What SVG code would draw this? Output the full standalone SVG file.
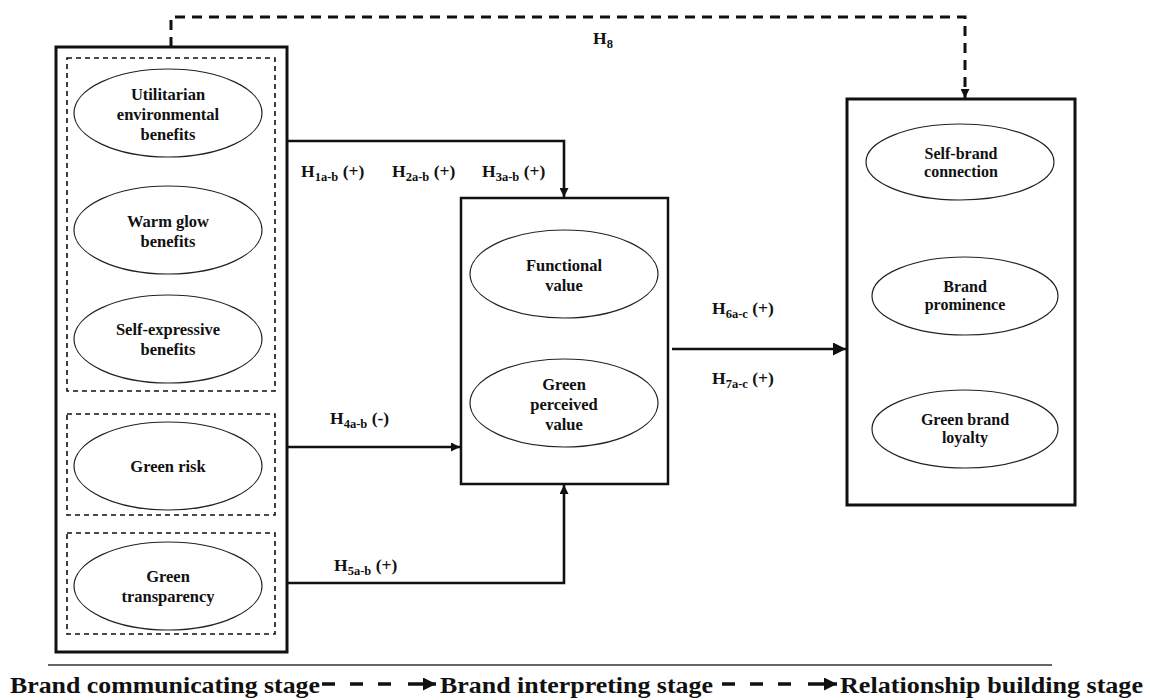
<svg xmlns="http://www.w3.org/2000/svg" width="1150" height="700" viewBox="0 0 1150 700">
  <style>
    text { font-family: "Liberation Serif", "Times New Roman", serif; font-weight: bold; fill: #111; }
    .lbl { font-size: 16.5px; text-anchor: middle; }
    .lbl-s { font-size: 16px; text-anchor: middle; }
    .hyp { font-size: 17.5px; }
    .sub { font-size: 12.5px; }
    .stage { font-size: 24px; }
    .box { fill: none; stroke: #111; stroke-width: 3; }
    .box-m { fill: none; stroke: #111; stroke-width: 2.5; }
    .group { fill: none; stroke: #111; stroke-width: 1.6; stroke-dasharray: 5 4; }
    .oval { fill: #fff; stroke: #222; stroke-width: 1.2; }
    .link { fill: none; stroke: #111; stroke-width: 2.6; }
    .link-d { fill: none; stroke: #111; stroke-width: 3; stroke-dasharray: 10 7; }
    .legend { fill: none; stroke: #111; stroke-width: 3.5; stroke-dasharray: 13 15; }
  </style>
  <defs>
    <marker id="arrow" viewBox="0 0 10 10" refX="10" refY="5" markerWidth="10" markerHeight="9" markerUnits="userSpaceOnUse" orient="auto">
      <path d="M0,0 L10,5 L0,10 Z" fill="#111"/>
    </marker>
    <marker id="arrow-lg" viewBox="0 0 10 10" refX="10" refY="5" markerWidth="14" markerHeight="13" markerUnits="userSpaceOnUse" orient="auto">
      <path d="M0,0 L10,5 L0,10 Z" fill="#111"/>
    </marker>
  </defs>

  <!-- Stage 1: brand communicating -->
  <g id="communicating">
    <rect class="box" x="56" y="47" width="231" height="605"/>
    <rect class="group" x="67" y="58" width="208" height="333"/>
    <rect class="group" x="67" y="414" width="208" height="101"/>
    <rect class="group" x="67" y="533" width="208" height="101"/>
  </g>
  <g id="utilitarian">
    <ellipse class="oval" cx="168" cy="113" rx="94" ry="44"/>
    <text class="lbl" x="168" y="100">Utilitarian</text>
    <text class="lbl" x="168" y="120">environmental</text>
    <text class="lbl" x="168" y="140">benefits</text>
  </g>
  <g id="warm-glow">
    <ellipse class="oval" cx="168" cy="230" rx="94" ry="44"/>
    <text class="lbl" x="168" y="227">Warm glow</text>
    <text class="lbl" x="168" y="247">benefits</text>
  </g>
  <g id="self-expressive">
    <ellipse class="oval" cx="168" cy="339" rx="94" ry="44"/>
    <text class="lbl" x="168" y="335">Self-expressive</text>
    <text class="lbl" x="168" y="355">benefits</text>
  </g>
  <g id="green-risk">
    <ellipse class="oval" cx="168" cy="466" rx="94" ry="44"/>
    <text class="lbl" x="168" y="472">Green risk</text>
  </g>
  <g id="green-transparency">
    <ellipse class="oval" cx="168" cy="586" rx="94" ry="44"/>
    <text class="lbl" x="168" y="582">Green</text>
    <text class="lbl" x="168" y="602">transparency</text>
  </g>

  <!-- Stage 2: brand interpreting -->
  <g id="interpreting">
    <rect class="box-m" x="461" y="198" width="207" height="286"/>
  </g>
  <g id="functional-value">
    <ellipse class="oval" cx="564" cy="274" rx="94" ry="44"/>
    <text class="lbl" x="564" y="271">Functional</text>
    <text class="lbl" x="564" y="291">value</text>
  </g>
  <g id="green-perceived-value">
    <ellipse class="oval" cx="564" cy="403" rx="94" ry="44"/>
    <text class="lbl" x="564" y="390">Green</text>
    <text class="lbl" x="564" y="410">perceived</text>
    <text class="lbl" x="564" y="430">value</text>
  </g>

  <!-- Stage 3: relationship building -->
  <g id="relationship">
    <rect class="box" x="847" y="99" width="228" height="406"/>
  </g>
  <g id="self-brand-connection">
    <ellipse class="oval" cx="960" cy="162" rx="94" ry="38"/>
    <text class="lbl-s" x="961" y="159">Self-brand</text>
    <text class="lbl-s" x="961" y="177">connection</text>
  </g>
  <g id="brand-prominence">
    <ellipse class="oval" cx="965" cy="296" rx="93" ry="39"/>
    <text class="lbl-s" x="965" y="292">Brand</text>
    <text class="lbl-s" x="965" y="310">prominence</text>
  </g>
  <g id="green-brand-loyalty">
    <ellipse class="oval" cx="965" cy="429" rx="93" ry="39"/>
    <text class="lbl-s" x="965" y="425">Green brand</text>
    <text class="lbl-s" x="965" y="443">loyalty</text>
  </g>

  <!-- Hypothesis paths -->
  <g id="connectors">
    <path class="link-d" d="M171,47 V17 H965 V98" marker-end="url(#arrow)"/>
    <path class="link" d="M287,141 H564 V197" marker-end="url(#arrow)"/>
    <path class="link" d="M287,447 H460" marker-end="url(#arrow)"/>
    <path class="link" d="M287,583 H564 V485" marker-end="url(#arrow)"/>
    <path class="link" d="M672,349 H846" marker-end="url(#arrow-lg)"/>
  </g>

  <g id="hypotheses">
    <text class="hyp" x="593" y="44">H<tspan class="sub" dy="4">8</tspan></text>
    <text class="hyp" x="301" y="177">H<tspan class="sub" dy="4">1a-b</tspan><tspan dy="-4"> (+)</tspan></text>
    <text class="hyp" x="392" y="177">H<tspan class="sub" dy="4">2a-b</tspan><tspan dy="-4"> (+)</tspan></text>
    <text class="hyp" x="482" y="177">H<tspan class="sub" dy="4">3a-b</tspan><tspan dy="-4"> (+)</tspan></text>
    <text class="hyp" x="330" y="424">H<tspan class="sub" dy="4">4a-b</tspan><tspan dy="-4"> (-)</tspan></text>
    <text class="hyp" x="334" y="571">H<tspan class="sub" dy="4">5a-b</tspan><tspan dy="-4"> (+)</tspan></text>
    <text class="hyp" x="712" y="314">H<tspan class="sub" dy="4">6a-c</tspan><tspan dy="-4"> (+)</tspan></text>
    <text class="hyp" x="712" y="384">H<tspan class="sub" dy="4">7a-c</tspan><tspan dy="-4"> (+)</tspan></text>
  </g>

  <!-- Stage legend -->
  <g id="legend">
    <line x1="48" y1="665" x2="1052" y2="665" stroke="#333" stroke-width="1.5"/>
    <text class="stage" x="10" y="693" textLength="310" lengthAdjust="spacingAndGlyphs">Brand communicating stage</text>
    <path class="legend" d="M322,684 H392"/>
    <path d="M408,684 H436" stroke="#111" stroke-width="3.5" marker-end="url(#arrow-lg)"/>
    <text class="stage" x="440" y="693" textLength="273" lengthAdjust="spacingAndGlyphs">Brand interpreting stage</text>
    <path class="legend" d="M722,684 H792"/>
    <path d="M808,684 H837" stroke="#111" stroke-width="3.5" marker-end="url(#arrow-lg)"/>
    <text class="stage" x="840" y="693" textLength="303" lengthAdjust="spacingAndGlyphs">Relationship building stage</text>
  </g>
</svg>
